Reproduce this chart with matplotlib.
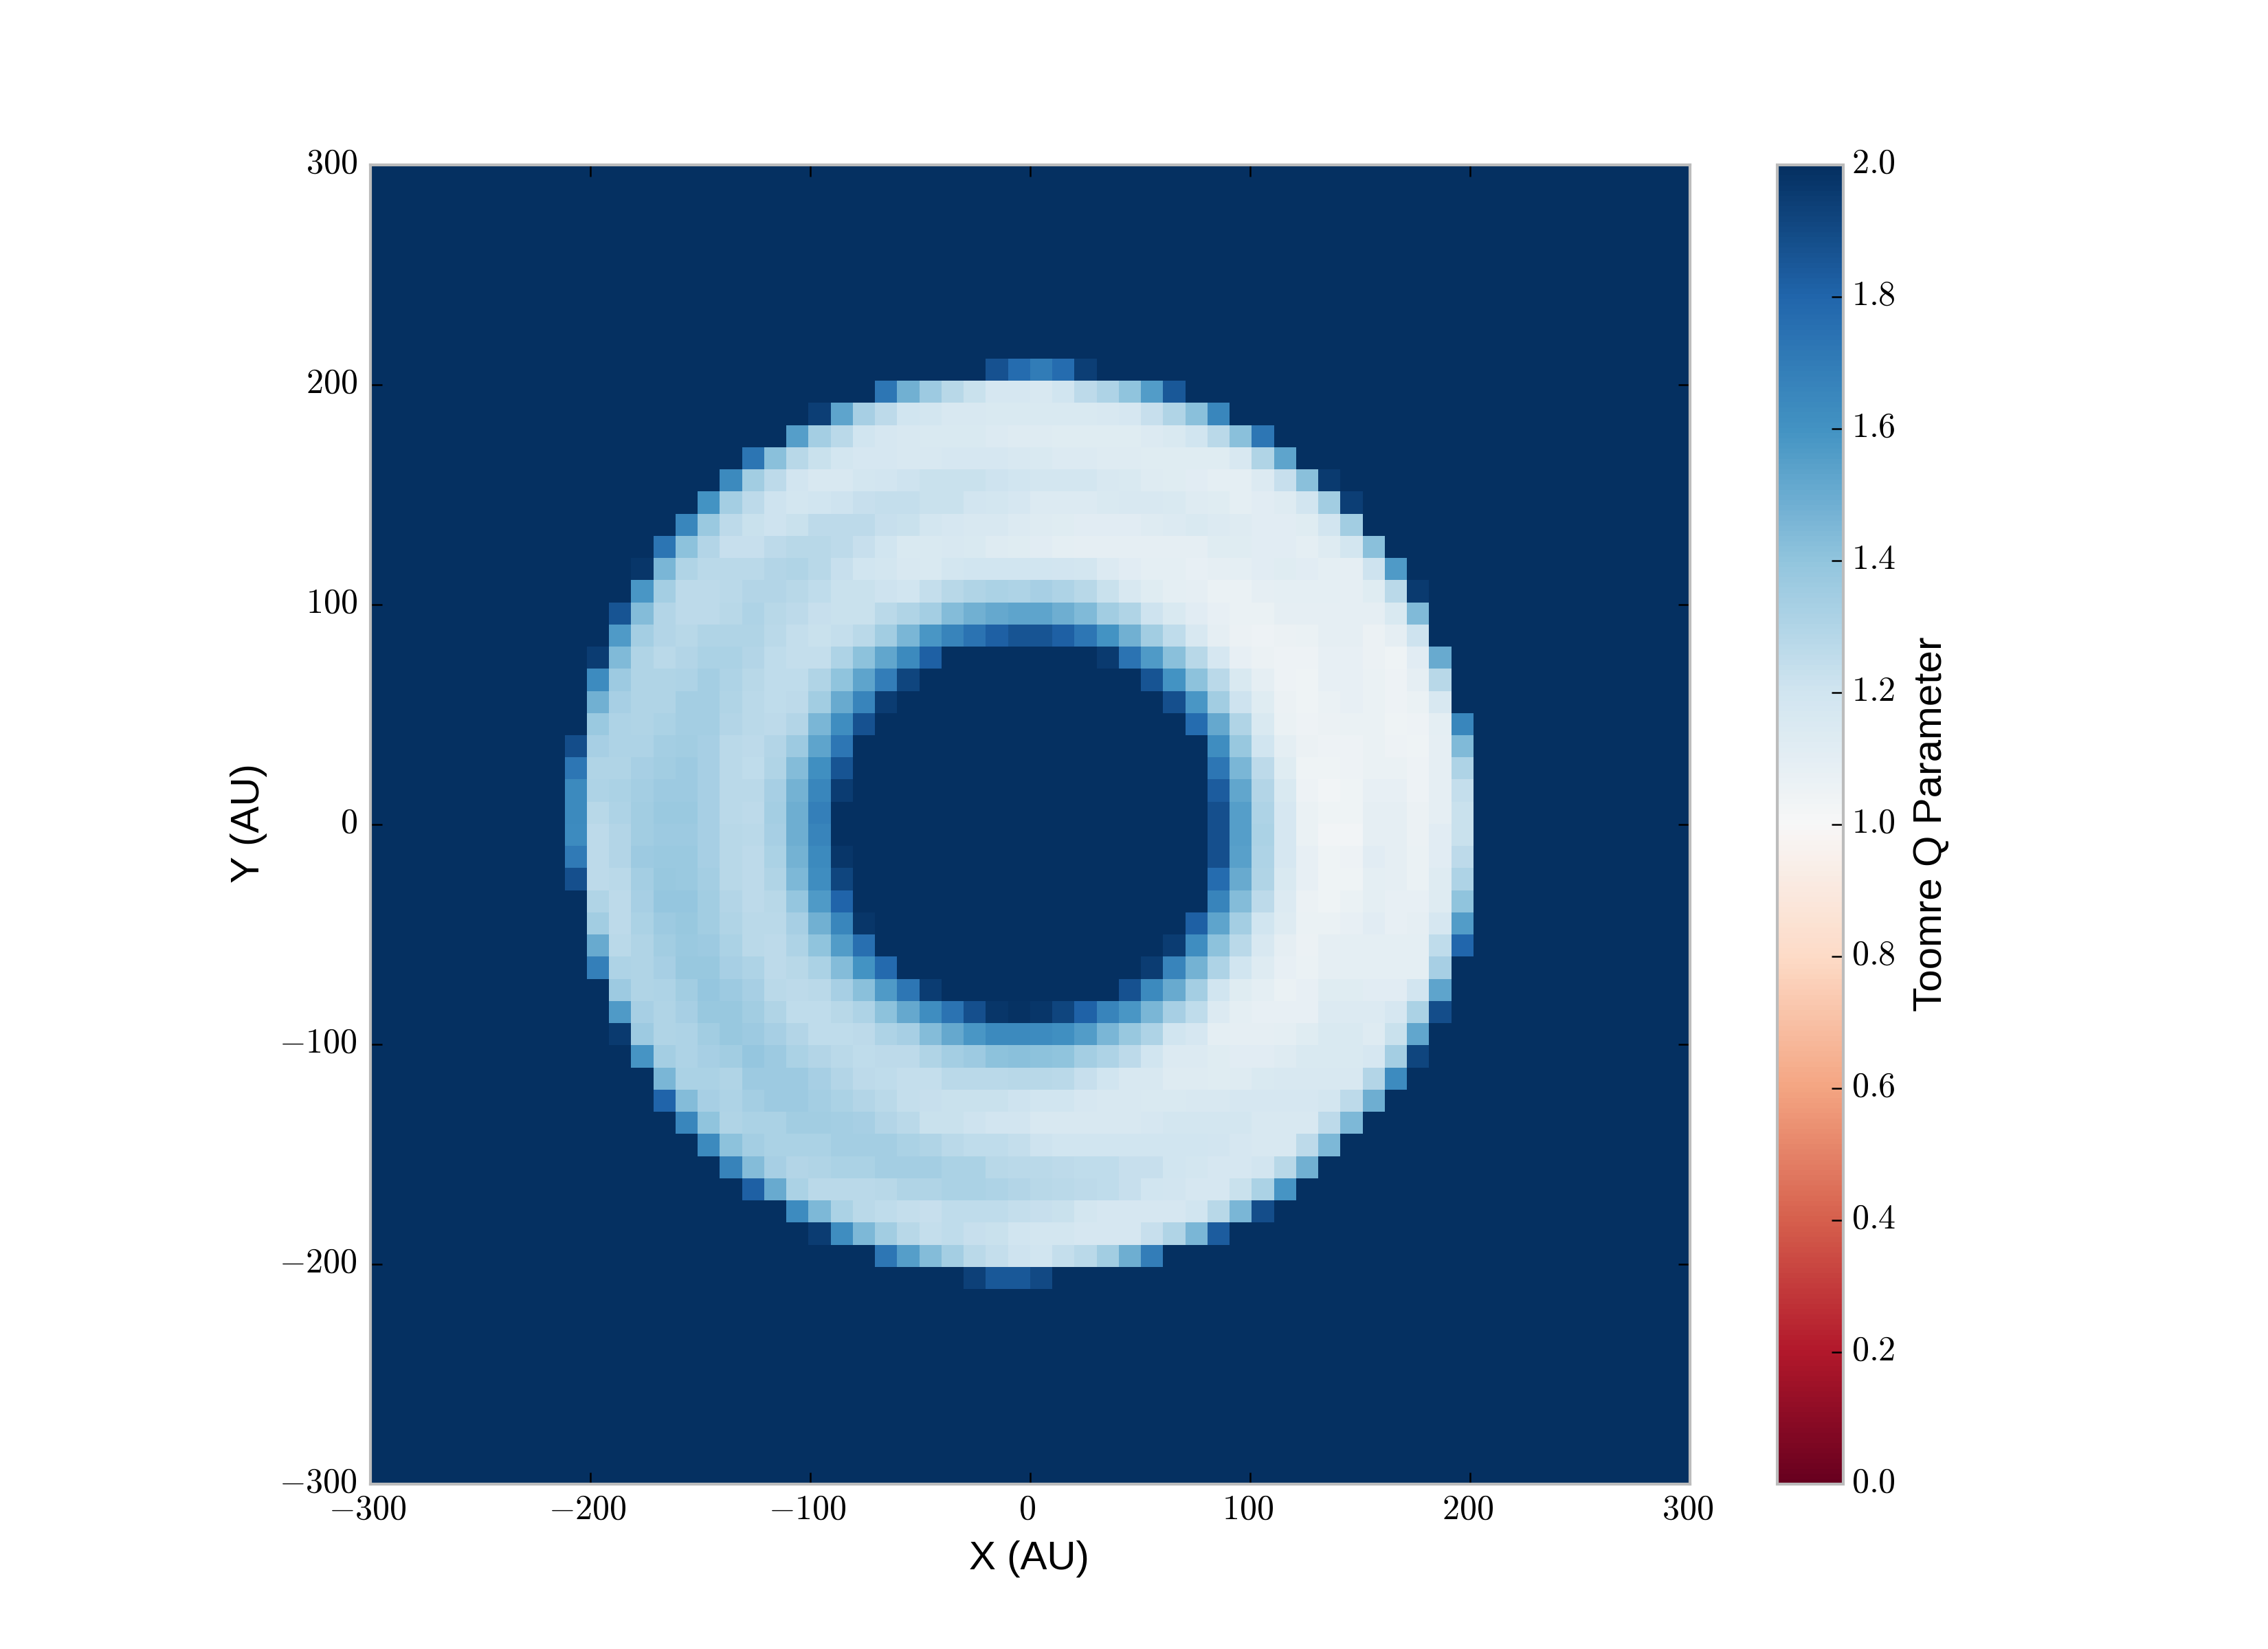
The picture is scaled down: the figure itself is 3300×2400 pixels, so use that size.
import numpy as np
import matplotlib
matplotlib.use("Agg")
import matplotlib.pyplot as plt
from matplotlib.transforms import ScaledTranslation

plt.rcParams['mathtext.fontset'] = 'cm'
plt.rcParams['font.family'] = ['Liberation Sans', 'DejaVu Sans']

# Toomre Q x 100 (top row first). D = clipped at the scale maximum.
D = 200
ring_rows = [
 [D]*19+[187,177,170,177,194]+[D]*17,
 [D]*14+[172,148,136,128,122,117,117,116,120,126,131,140,156,185]+[D]*13,
 [D]*11+[194,153,133,126,120,118,116,116,115,115,115,115,115,116,117,123,130,142,165]+[D]*11,
 [D]*10+[155,134,127,120,117,116,115,115,115,114,113,113,112,112,112,112,114,115,120,127,142,172]+[D]*9,
 [D]*8+[173,142,128,122,118,117,117,116,116,117,117,117,116,115,114,114,113,113,112,112,112,112,116,130,153]+[D]*8,
 [D]*7+[164,135,126,119,116,116,118,119,121,122,122,122,121,120,118,118,118,116,115,113,112,111,110,110,114,123,142,196]+[D]*6,
 [D]*6+[160,134,126,121,118,120,121,123,124,124,122,122,119,118,117,114,114,114,115,116,116,115,113,112,110,111,113,119,135,194]+[D]*5,
 [D]*5+[165,137,126,122,121,122,126,126,126,123,122,118,117,116,116,114,113,112,111,111,111,113,114,115,114,113,111,111,112,119,135]+[D]*5,
 [D]*4+[173,141,129,123,123,126,128,128,126,123,120,115,115,116,115,113,112,111,110,109,109,109,109,109,109,112,112,111,111,110,113,118,142]+[D]*4,
 [D]*3+[197,146,130,127,127,127,129,130,128,123,120,118,116,115,118,120,120,120,120,119,118,114,111,110,110,108,109,110,111,112,111,110,109,121,157]+[D]*3,
 [D]*3+[158,134,126,126,127,129,129,128,125,122,122,121,120,124,128,130,132,131,133,131,128,122,116,112,110,109,107,107,109,110,110,110,109,112,127,196]+[D]*2,
 [D]*2+[186,143,129,126,126,128,131,128,126,123,122,122,127,130,134,143,148,151,153,153,149,144,135,130,121,115,111,108,107,107,109,109,109,109,109,115,144]+[D]*2,
 [D]*2+[157,134,129,128,130,130,130,127,124,122,124,127,135,146,158,166,174,182,186,186,182,172,160,148,135,125,116,109,106,105,106,107,109,109,106,109,121]+[D]*2,
 [D]*1+[195,144,130,127,129,132,132,129,125,124,124,131,141,152,164,182]+[D]*7+[196,174,157,142,128,117,108,106,105,105,108,108,106,104,111,150]+[D]*1,
 [D]*1+[163,136,130,130,131,134,131,128,125,125,130,140,153,169,192]+[D]*10+[186,160,141,127,115,109,105,104,108,108,107,105,109,128]+[D]*1,
 [D]*1+[148,133,130,130,134,134,130,127,125,126,135,150,166,195]+[D]*12+[188,158,135,121,112,106,104,107,108,107,105,107,116]+[D]*1,
 [D]*1+[137,131,130,132,134,134,129,127,126,129,146,162,187]+[D]*14+[177,151,130,115,107,105,106,107,107,104,105,110,165],
 [189,133,131,131,134,135,133,127,126,129,136,153,172]+[D]*16+[162,138,120,110,106,105,105,107,105,104,109,144],
 [172,130,130,133,135,136,133,127,125,130,143,161,186]+[D]*16+[172,146,126,112,104,104,105,107,107,105,109,131],
 [164,131,132,134,136,136,133,127,127,133,147,165,195]+[D]*16+[183,152,129,115,105,103,104,108,108,105,109,124],
 [164,128,131,135,137,137,133,127,126,134,149,168]+[D]*17+[188,155,131,117,107,104,104,109,109,106,109,122],
 [163,126,129,135,136,136,133,128,127,133,149,166]+[D]*17+[188,155,132,117,107,103,103,109,109,106,111,122],
 [171,126,129,136,137,137,133,128,126,132,147,164,197]+[D]*16+[188,154,131,117,108,104,105,111,109,107,111,126],
 [188,126,127,134,138,137,134,128,126,130,145,162,192]+[D]*16+[177,150,130,115,108,104,104,110,109,107,113,131],
 [D]*1+[130,126,133,139,139,135,129,126,128,139,157,180]+[D]*16+[166,143,126,114,106,104,107,110,108,108,113,140],
 [D]*1+[135,126,132,136,138,135,130,127,127,133,148,165,197]+[D]*14+[182,153,134,120,113,107,107,108,111,108,109,117,156],
 [D]*1+[150,127,130,135,137,136,132,127,126,131,140,156,175]+[D]*13+[195,162,141,127,116,109,106,109,110,110,110,110,125,179],
 [D]*1+[168,131,130,133,138,138,133,131,126,128,132,143,160,178]+[D]*11+[195,166,147,131,120,113,108,107,109,110,110,110,110,133]+[D]*1,
 [D]*2+[136,130,131,135,139,136,133,127,126,127,133,142,157,172,195]+[D]*8+[187,164,150,134,120,112,110,107,108,112,112,111,111,119,153]+[D]*1,
 [D]*2+[157,133,130,133,138,138,135,130,125,125,128,131,141,151,162,174,188,197,199,197,192,181,166,158,146,133,125,114,110,108,108,108,114,114,114,117,132,189]+[D]*1,
 [D]*2+[196,136,130,131,135,138,136,133,129,125,125,126,131,133,143,151,158,164,164,163,161,156,146,138,131,120,117,110,109,109,110,112,115,115,113,122,152]+[D]*2,
 [D]*3+[159,134,131,133,135,139,136,132,129,127,125,126,126,130,134,136,141,142,141,140,134,131,126,120,114,114,112,111,111,113,115,115,115,117,134,192]+[D]*2,
 [D]*4+[146,132,132,130,136,136,136,133,129,126,125,124,124,127,127,127,128,128,127,123,120,116,116,113,113,112,113,115,116,116,116,116,129,163]+[D]*3,
 [D]*4+[180,143,133,131,134,136,136,134,132,129,127,124,123,122,122,122,121,120,120,117,116,116,115,115,116,116,117,117,117,117,118,126,149]+[D]*4,
 [D]*5+[165,140,130,132,132,135,135,134,133,129,127,122,122,121,119,119,116,116,116,116,116,117,118,118,118,118,116,116,116,126,145]+[D]*5,
 [D]*6+[164,141,134,132,132,132,134,134,134,132,130,127,125,125,124,121,120,120,120,120,120,120,120,119,117,116,116,126,145]+[D]*6,
 [D]*7+[167,143,133,129,130,132,132,134,134,134,132,132,128,127,127,126,125,125,123,123,120,118,117,117,119,128,148]+[D]*7,
 [D]*8+[182,150,132,127,127,127,128,130,130,132,132,131,129,128,127,126,125,123,120,119,117,117,122,132,159]+[D]*8,
 [D]*10+[163,145,132,127,125,124,123,125,125,125,124,123,122,118,117,117,117,117,120,128,146,189]+[D]*9,
 [D]*11+[195,162,145,135,128,124,125,123,122,120,118,118,117,117,117,123,130,146,183]+[D]*11,
 [D]*14+[172,155,143,134,127,124,121,120,124,127,135,149,169]+[D]*14,
 [D]*18+[193,185,185,190]+[D]*19,
]
grid_size = 60
pad_left = 9
pad_top = 9
image_extent = [-302.3, 302.3, -302.0, 302.6]

xy_ticks = [-300, -200, -100, 0, 100, 200, 300]
xy_tick_labels = ['$-300$', '$-200$', '$-100$', '$0$', '$100$', '$200$', '$300$']
cbar_ticks = [0.0, 0.2, 0.4, 0.6, 0.8, 1.0, 1.2, 1.4, 1.6, 1.8, 2.0]
cbar_tick_labels = ['$0.0$', '$0.2$', '$0.4$', '$0.6$', '$0.8$', '$1.0$', '$1.2$', '$1.4$', '$1.6$', '$1.8$', '$2.0$']

Q = np.full((grid_size, grid_size), 2.0)
Q[pad_top:pad_top+len(ring_rows), pad_left:pad_left+41] = np.array(ring_rows) / 100.0

W, H = 3300.0, 2400.0
fig = plt.figure(figsize=(11, 8), dpi=300)
ax = fig.add_axes([539/W, 1-2160/H, 1920/W, 1920/H])
cax = fig.add_axes([2586/W, 1-2160/H, 96/W, 1920/H])

im = ax.imshow(Q, cmap='RdBu', vmin=0, vmax=2, extent=image_extent, origin='upper',
               interpolation='nearest', aspect='equal')
ax.set_xlim(-300, 300)
ax.set_ylim(-300, 300)
ax.set_xticks(xy_ticks, xy_tick_labels)
ax.set_yticks(xy_ticks, xy_tick_labels)
ax.tick_params(axis='both', which='major', direction='in', length=4, width=0.6,
               top=True, right=True, labelsize=12, pad=4.5, color='black')

cb = fig.colorbar(im, cax=cax)
cb.set_ticks(cbar_ticks, labels=cbar_tick_labels)
cax.tick_params(axis='y', direction='in', length=4, width=0.6, labelsize=12, pad=3.0, color='black')
cax.minorticks_off()

for a in (ax, cax):
    for s in a.spines.values():
        s.set_edgecolor('#bcbcbc')
        s.set_linewidth(1.0)
cb.outline.set_edgecolor('#bcbcbc')
cb.outline.set_linewidth(1.0)

# nudge tick labels (offsets in inches at 300 dpi)
for lab in ax.get_yticklabels() + cax.get_yticklabels():
    lab.set_transform(lab.get_transform() + ScaledTranslation(0, 6/300, fig.dpi_scale_trans))
for lab in ax.get_xticklabels():
    lab.set_transform(lab.get_transform() + ScaledTranslation(-4/300, 4/300, fig.dpi_scale_trans))

ax.set_xlabel('X (AU)', fontsize=14)
ax.xaxis.set_label_coords(0.5 - 2/1920, (2160-2269)/1920)
ax.xaxis.label.set_va('center')
ax.set_ylabel('Y (AU)', fontsize=14)
ax.yaxis.set_label_coords((362-539)/1920, 0.5 + 2/1920)
ax.yaxis.label.set_va('center')
cb.set_label('Toomre Q Parameter', fontsize=14)
cax.yaxis.set_label_coords((2810-2586)/96, 0.5 + 1/1920)
cax.yaxis.label.set_va('center')

fig.savefig('out.png', dpi=300)
